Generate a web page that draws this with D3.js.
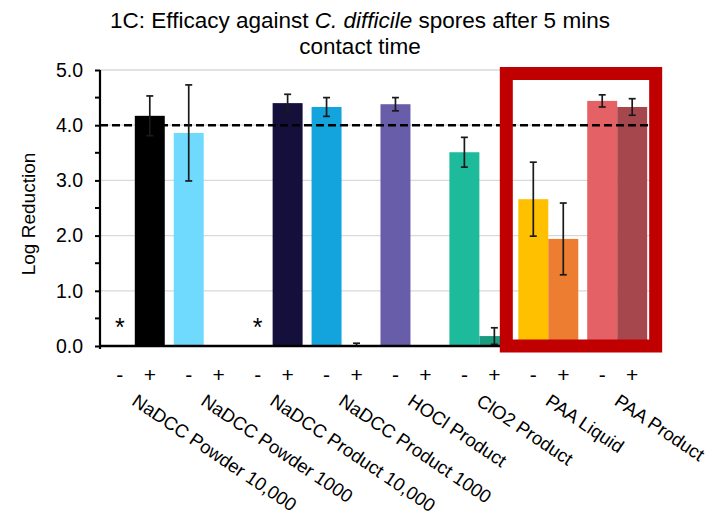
<!DOCTYPE html>
<html>
<head>
<meta charset="utf-8">
<script src="https://cdn.jsdelivr.net/npm/d3@7"></script>
<style>
  body { margin: 0; background: #fff; }
  text { font-family: "Liberation Sans", Arial, sans-serif; fill: #000; }
</style>
</head>
<body>
<svg id="fig" width="716" height="515"></svg>
<script>
// data
const categories = ["NaDCC Powder 10,000", "NaDCC Powder 1000", "NaDCC Product 10,000",
  "NaDCC Product 1000", "HOCl Product", "ClO2 Product", "PAA Liquid", "PAA Product"];
const signs = ["-", "+"];
const minusValues = [0, 3.86, 0, 4.33, 4.38, 3.51, 2.66, 4.44];
const plusValues  = [4.17, 0, 4.40, 0, 0, 0.18, 1.94, 4.33];
const minusErr = [0, 0.87, 0, 0.17, 0.12, 0.27, 0.67, 0.11];
const plusErr  = [0.36, 0, 0.16, 0.05, 0, 0.15, 0.65, 0.15];
const minusColors = ["#000000", "#70d9fe", "#150f3c", "#13a4de", "#685da8", "#1dba9c", "#ffc000", "#e46165"];
const plusColors  = ["#000000", "#70d9fe", "#150f3c", "#13a4de", "#685da8", "#1a9b80", "#ed7d31", "#a6474e"];
const starred = [["NaDCC Powder 10,000", "-"], ["NaDCC Product 10,000", "-"]];
const yTicks = [0, 1, 2, 3, 4, 5];
const threshold = 4.0;
const highlighted = ["PAA Liquid", "PAA Product"];

const svg = d3.select("#fig");
const plotLeft = 100, plotRight = 652, plotTop = 70, plotBottom = 346;

let x0 = d3.scaleBand().domain(categories).range([plotLeft, plotRight]).paddingInner(0.13).paddingOuter(0.07);
let x1 = d3.scaleBand().domain(signs).range([0, x0.bandwidth()]);
let y = d3.scaleLinear().domain([0, 5]).range([plotBottom, plotTop]);

// rows for bars
let rows = [];
categories.forEach((c, i) => {
    rows.push({cat: c, sign: "-", value: minusValues[i], err: minusErr[i], color: minusColors[i]});
    rows.push({cat: c, sign: "+", value: plusValues[i], err: plusErr[i], color: plusColors[i]});
});
const cx = d => x0(d.cat) + x1(d.sign) + x1.bandwidth() / 2;

// gridlines
svg.append("g").selectAll("line").data(yTicks.filter(t => t > 0)).join("line")
    .attr("x1", plotLeft).attr("x2", plotRight)
    .attr("y1", d => y(d)).attr("y2", d => y(d))
    .attr("stroke", "#d9d9d9").attr("stroke-width", 1.3);

// bars
svg.append("g").selectAll("rect").data(rows.filter(d => d.value > 0)).join("rect")
    .attr("x", d => x0(d.cat) + x1(d.sign))
    .attr("width", x1.bandwidth())
    .attr("y", d => y(d.value))
    .attr("height", d => y(0) - y(d.value))
    .attr("fill", d => d.color);

// threshold line
svg.append("line")
    .attr("x1", plotLeft).attr("x2", plotRight)
    .attr("y1", y(threshold)).attr("y2", y(threshold))
    .attr("stroke", "#000").attr("stroke-width", 2.5)
    .attr("stroke-dasharray", "8,4");

// error bars
let eg = svg.append("g").attr("stroke", "#1a1a1a").attr("stroke-width", 1.7);
rows.filter(d => d.err > 0).forEach(d => {
    const xc = cx(d), capW = 3.5;
    eg.append("line").attr("x1", xc).attr("x2", xc)
        .attr("y1", y(d.value + d.err)).attr("y2", y(Math.max(0, d.value - d.err)));
    [d.value + d.err, d.value - d.err].filter(v => v >= 0).forEach(v => {
        eg.append("line").attr("x1", xc - capW).attr("x2", xc + capW)
            .attr("y1", y(v)).attr("y2", y(v));
    });
});

// asterisks
svg.append("g").selectAll("text").data(starred).join("text")
    .attr("x", d => x0(d[0]) + x1(d[1]) + x1.bandwidth() / 2)
    .attr("y", y(0) - 10)
    .attr("text-anchor", "middle")
    .style("font-size", "25px")
    .text("*");

// y axis
let yAxis = svg.append("g").attr("transform", `translate(${plotLeft},0)`)
    .call(d3.axisLeft(y).tickValues(yTicks).tickFormat(d3.format(".1f")).tickSize(5).tickPadding(12));
yAxis.select(".domain").attr("stroke-width", 2.2).attr("d", `M0,${plotTop}V${plotBottom + 3}`);
yAxis.selectAll(".tick line").attr("stroke-width", 2);
yAxis.selectAll(".tick text").style("font-size", "19.5px").style("font-family", "Liberation Sans, Arial, sans-serif");
yAxis.append("g").selectAll("line").data(d3.range(0.5, 5, 1)).join("line")
    .attr("x1", -5).attr("x2", 0).attr("y1", d => y(d)).attr("y2", d => y(d))
    .attr("stroke", "#000").attr("stroke-width", 2);

// x axis baseline
svg.append("line").attr("x1", plotLeft - 1).attr("x2", plotRight)
    .attr("y1", y(0)).attr("y2", y(0))
    .attr("stroke", "#000").attr("stroke-width", 2.5);

// sign labels
svg.append("g").selectAll("text").data(rows).join("text")
    .attr("x", cx)
    .attr("y", 382)
    .attr("text-anchor", "middle")
    .style("font-size", "21px")
    .text(d => d.sign);

// category labels
svg.append("g").selectAll("text").data(categories).join("text")
    .attr("transform", d => `translate(${x0(d) + x0.bandwidth() / 2 - 4},404) rotate(34)`)
    .style("font-size", "18.5px")
    .text(d => d);

// axis title
svg.append("text")
    .attr("transform", `translate(35,${(plotTop + plotBottom) / 2 + 6}) rotate(-90)`)
    .attr("text-anchor", "middle")
    .style("font-size", "19px")
    .text("Log Reduction");

// chart title
let title = svg.append("text").attr("text-anchor", "middle").style("font-size", "22.5px");
let l1 = title.append("tspan").attr("x", 360).attr("y", 28);
l1.append("tspan").text("1C: Efficacy against ");
l1.append("tspan").style("font-style", "italic").text("C. difficile");
l1.append("tspan").text(" spores after 5 mins");
title.append("tspan").attr("x", 360).attr("y", 54).text("contact time");

// highlight box
svg.append("rect")
    .attr("x", x0(highlighted[0]) - 12)
    .attr("y", y(5) + 3.5)
    .attr("width", x0(highlighted[1]) + x0.bandwidth() + 8.5 - (x0(highlighted[0]) - 12))
    .attr("height", y(0) - y(5) - 3.5)
    .attr("fill", "none")
    .attr("stroke", "#c00000")
    .attr("stroke-width", 13);
</script>
</body>
</html>
